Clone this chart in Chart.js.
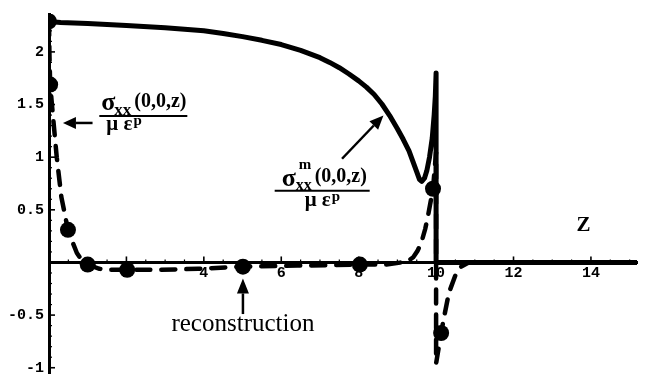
<!DOCTYPE html>
<html><head><meta charset="utf-8">
<script src="https://cdn.jsdelivr.net/npm/chart.js@4.4.0/dist/chart.umd.min.js"></script>
<style>html,body{margin:0;padding:0;background:#fff;}#wrap{width:645px;height:387px;}</style>
</head><body><div id="wrap"><canvas id="c" width="645" height="387"></canvas></div>
<script>
// exact stress sigma^m_xx(0,0,z)/(mu eps^p)
const exactZ = [0, 0.3, 1, 2, 3, 3.5, 4, 4.5, 5, 5.5, 6, 6.5, 7, 7.25, 7.5, 7.75, 8, 8.2, 8.4, 8.6, 8.8, 9.0, 9.15, 9.3, 9.4, 9.5, 9.57, 9.63, 9.7, 9.76, 9.83, 9.9, 9.95, 9.98, 10.0, 10.0, 15.19];
const exactS = [2.29, 2.28, 2.27, 2.25, 2.23, 2.215, 2.20, 2.175, 2.145, 2.11, 2.07, 2.015, 1.945, 1.90, 1.85, 1.79, 1.725, 1.665, 1.595, 1.505, 1.395, 1.27, 1.17, 1.06, 0.96, 0.86, 0.79, 0.77, 0.80, 0.87, 1.0, 1.18, 1.40, 1.58, 1.80, 0, 0];
// reconstruction (dashed)
const reconZ = [0, 0.01, 0.03, 0.1, 0.2, 0.32, 0.49, 0.59, 0.72, 0.85, 1.0, 1.3, 1.6, 2.02, 2.84, 3.86, 5.01, 6.42, 8.03, 8.72, 9.1, 9.3, 9.41, 9.52, 9.62, 9.72, 9.8, 9.92, 10.0, 10.0, 10.13, 10.2, 10.33, 10.51, 10.65, 10.84, 15.19];
const reconS = [2.29, 2.0, 1.69, 1.40, 1.00, 0.62, 0.31, 0.21, 0.09, 0.02, -0.02, -0.06, -0.07, -0.07, -0.07, -0.06, -0.04, -0.03, -0.02, -0.02, 0, 0.02, 0.05, 0.11, 0.19, 0.32, 0.46, 0.70, 1.05, -0.96, -0.67, -0.53, -0.29, -0.11, -0.04, 0, 0];
// reconstruction sample points (dots)
const sampleZ = [0, 0.03, 0.49, 1.0, 2.02, 5.01, 8.03, 9.92, 10.13];
const sampleS = [2.29, 1.69, 0.31, -0.02, -0.07, -0.04, -0.02, 0.70, -0.67];
// tick labels
const xTickValues = [2, 4, 6, 8, 10, 12, 14];
const yTickValues = [-1, -0.5, 0.5, 1, 1.5, 2];

const zip = (a, b) => a.map((v, i) => ({x: v, y: b[i]}));

const minorTicks = {
  id: 'minorTicks',
  beforeDatasetsDraw(chart) {
    const {ctx, scales: {x, y}} = chart;
    const x0 = x.getPixelForValue(0), y0 = y.getPixelForValue(0);
    ctx.save();
    ctx.strokeStyle = '#000';
    for (let i = 1; i <= 30; i++) {
      const v = i * 0.5;
      if (v > x.max) break;
      const px = x.getPixelForValue(v);
      const major = i % 4 === 0;
      ctx.lineWidth = major ? 1.6 : 1.2;
      ctx.beginPath(); ctx.moveTo(px, y0); ctx.lineTo(px, y0 - (major ? 6 : 3)); ctx.stroke();
    }
    for (let i = -10; i <= 23; i++) {
      if (i === 0) continue;
      const v = i * 0.1;
      const py = y.getPixelForValue(v);
      const major = i % 5 === 0;
      ctx.lineWidth = major ? 1.6 : 1.2;
      ctx.beginPath(); ctx.moveTo(x0, py); ctx.lineTo(x0 + (major ? 6 : 3), py); ctx.stroke();
    }
    ctx.restore();
  }
};

function arrow(ctx, x1, y1, x2, y2, len, half, lw) {
  const a = Math.atan2(y2 - y1, x2 - x1);
  const bx = x2 - len * Math.cos(a), by = y2 - len * Math.sin(a);
  ctx.lineWidth = lw;
  ctx.beginPath(); ctx.moveTo(x1, y1); ctx.lineTo(bx, by); ctx.stroke();
  ctx.beginPath();
  ctx.moveTo(x2, y2);
  ctx.lineTo(bx + half * Math.sin(a), by - half * Math.cos(a));
  ctx.lineTo(bx - half * Math.sin(a), by + half * Math.cos(a));
  ctx.closePath(); ctx.fill();
}

const notes = {
  id: 'notes',
  afterDatasetsDraw(chart) {
    const {ctx, scales: {x, y}} = chart;
    const P = (a, b) => [x.getPixelForValue(a), y.getPixelForValue(b)];
    const T = (s, px, py, f, align) => { ctx.font = f; ctx.textAlign = align || 'left'; ctx.fillText(s, px, py); return ctx.measureText(s).width; };
    ctx.save();
    ctx.fillStyle = '#000'; ctx.strokeStyle = '#000';
    ctx.textBaseline = 'alphabetic';
    const SF = '"Liberation Serif", "DejaVu Serif", serif';
    // left fraction
    let [ax, ay] = P(1.30, 1.39);
    ctx.lineWidth = 2;
    ctx.beginPath(); ctx.moveTo(ax, ay); ctx.lineTo(ax + 88, ay); ctx.stroke();
    T('σ', ax + 2, ay - 6, 'bold 26px ' + SF);
    T('xx', ax + 15, ay - 1, 'bold 17px ' + SF);
    T('(0,0,z)', ax + 35, ay - 9, 'bold 20px ' + SF);
    let w = T('μ ε', ax + 7, ay + 14, 'bold 21px ' + SF);
    T('p', ax + 7 + w + 1, ay + 9, 'bold 15px ' + SF);
    // right fraction
    let [bx, by] = P(5.83, 0.68);
    ctx.lineWidth = 2;
    ctx.beginPath(); ctx.moveTo(bx, by); ctx.lineTo(bx + 95, by); ctx.stroke();
    T('σ', bx + 7, by - 5, 'bold 26px ' + SF);
    T('m', bx + 24, by - 22, 'bold 15px ' + SF);
    T('xx', bx + 21, by - 1, 'bold 16px ' + SF);
    T('(0,0,z)', bx + 40, by - 9, 'bold 20px ' + SF);
    w = T('μ ε', bx + 30, by + 15, 'bold 21px ' + SF);
    T('p', bx + 30 + w + 1, by + 10, 'bold 15px ' + SF);
    // arrows
    let [p1x, p1y] = P(1.125, 1.325), [p2x, p2y] = P(0.36, 1.325);
    arrow(ctx, p1x, p1y, p2x, p2y, 13, 6, 2.5);
    [p1x, p1y] = P(7.57, 0.985); [p2x, p2y] = P(8.64, 1.397);
    arrow(ctx, p1x, p1y, p2x, p2y, 14, 6, 2.5);
    [p1x, p1y] = P(5.01, -0.49); [p2x, p2y] = P(5.01, -0.152);
    arrow(ctx, p1x, p1y, p2x, p2y, 15, 6, 2.5);
    // texts
    let [rx, ry] = P(5.01, -0.653);
    T('reconstruction', rx, ry, '25px ' + SF, 'center');
    let [zx, zy] = P(13.63, 0.295);
    T('Z', zx, zy, 'bold 21px ' + SF);
    ctx.restore();
  }
};

const tickFont = {family: '"Liberation Mono", "DejaVu Sans Mono", monospace', size: 15, weight: 'bold'};

new Chart(document.getElementById('c'), {
  type: 'scatter',
  data: {
    datasets: [
      {data: zip(reconZ, reconS), showLine: true, borderColor: '#000', borderWidth: 4.5, borderDash: [14, 11], borderCapStyle: 'round', pointRadius: 0, tension: 0, fill: false},
      {data: zip(exactZ, exactS), showLine: true, borderColor: '#000', borderWidth: 5, borderJoinStyle: 'round', pointRadius: 0, tension: 0, fill: false},
      {data: zip(sampleZ, sampleS), showLine: false, pointRadius: 8, pointBackgroundColor: '#000', pointBorderWidth: 0}
    ]
  },
  options: {
    responsive: false, animation: false, events: [],
    layout: {padding: {left: 0, right: 2, top: 4, bottom: 2}},
    plugins: {legend: {display: false}, tooltip: {enabled: false}},
    scales: {
      x: {
        type: 'linear', min: 0, max: 15.19, position: {y: 0},
        grid: {display: false, drawTicks: false},
        border: {display: true, color: '#000', width: 3},
        ticks: {color: '#000', font: tickFont, padding: 2, autoSkip: false, maxRotation: 0},
        afterBuildTicks: s => { s.ticks = xTickValues.map(v => ({value: v})); },
        afterFit: s => { s.height = 0; }
      },
      y: {
        type: 'linear', min: -1.05, max: 2.36, position: 'left',
        grid: {display: false, drawTicks: false},
        border: {display: true, color: '#000', width: 3},
        ticks: {color: '#000', font: tickFont, padding: 5, autoSkip: false},
        afterBuildTicks: s => { s.ticks = yTickValues.map(v => ({value: v})); },
        afterFit: s => { s.width = 49; }
      }
    }
  },
  plugins: [minorTicks, notes]
});
</script></body></html>
